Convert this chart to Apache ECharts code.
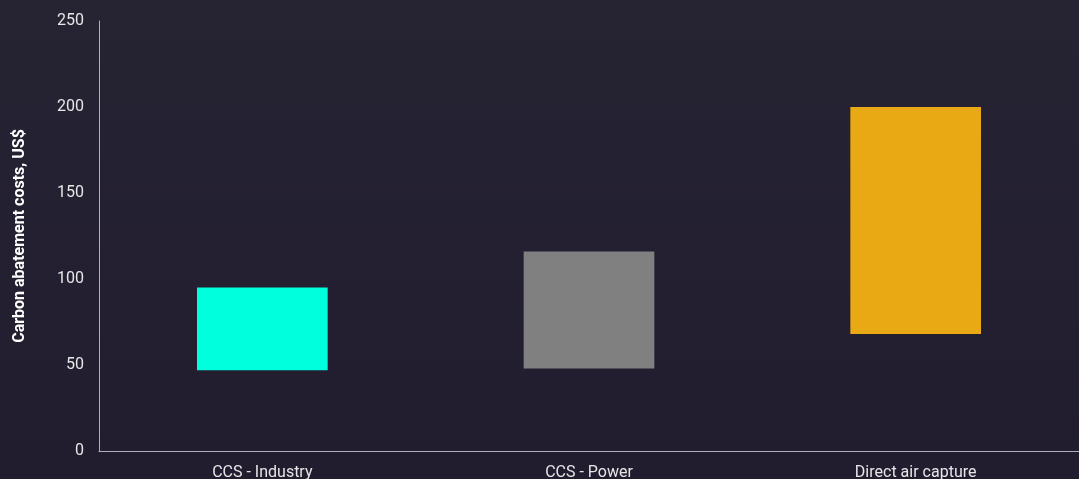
<!DOCTYPE html>
<html>
<head>
<meta charset="utf-8">
<script src="https://cdn.jsdelivr.net/npm/echarts@6/dist/echarts.min.js"></script>
<style>
  html, body { margin: 0; padding: 0; }
  body { background: linear-gradient(180deg, #262333 0%, #211d2f 100%); }
  #chart { width: 1079px; height: 479px; }
</style>
</head>
<body>
<div id="chart"></div>
<script>
// Abatement cost ranges (US$) per carbon removal approach
const categories = ['CCS - Industry', 'CCS - Power', 'Direct air capture'];
const costLow = [47, 48, 68];
const costHigh = [95, 116, 200];
const barColors = ['#00ffdc', '#808080', '#e8a915'];
const yTicks = { min: 0, max: 250, interval: 50 };

const chart = echarts.init(document.getElementById('chart'));

const spans = costHigh.map((h, i) => ({
  value: h - costLow[i],
  itemStyle: { color: barColors[i] }
}));

chart.setOption({
  backgroundColor: 'transparent',
  textStyle: { fontFamily: 'Roboto' },
  grid: { left: 99, right: 0, top: 21, bottom: 28, containLabel: false, outerBoundsMode: 'none' },
  xAxis: {
    type: 'category',
    data: categories,
    axisLine: { lineStyle: { color: '#b0aeb8', width: 1 } },
    axisTick: { show: false },
    axisLabel: { color: '#e6e6e6', fontSize: 16, margin: 14 }
  },
  yAxis: {
    type: 'value',
    min: yTicks.min,
    max: yTicks.max,
    interval: yTicks.interval,
    name: 'Carbon abatement costs, US$',
    nameLocation: 'middle',
    nameGap: 71,
    nameTextStyle: { color: '#ffffff', fontSize: 16, fontWeight: 'bold' },
    axisLine: { show: true, lineStyle: { color: '#b0aeb8', width: 1 } },
    axisTick: { show: false },
    splitLine: { show: false },
    axisLabel: { color: '#e6e6e6', fontSize: 16, margin: 15 }
  },
  series: [
    {
      type: 'bar',
      stack: 'range',
      data: costLow,
      itemStyle: { color: 'transparent' },
      barWidth: '40%',
      silent: true
    },
    {
      type: 'bar',
      stack: 'range',
      data: spans,
      barWidth: '40%'
    }
  ]
});
</script>
</body>
</html>
